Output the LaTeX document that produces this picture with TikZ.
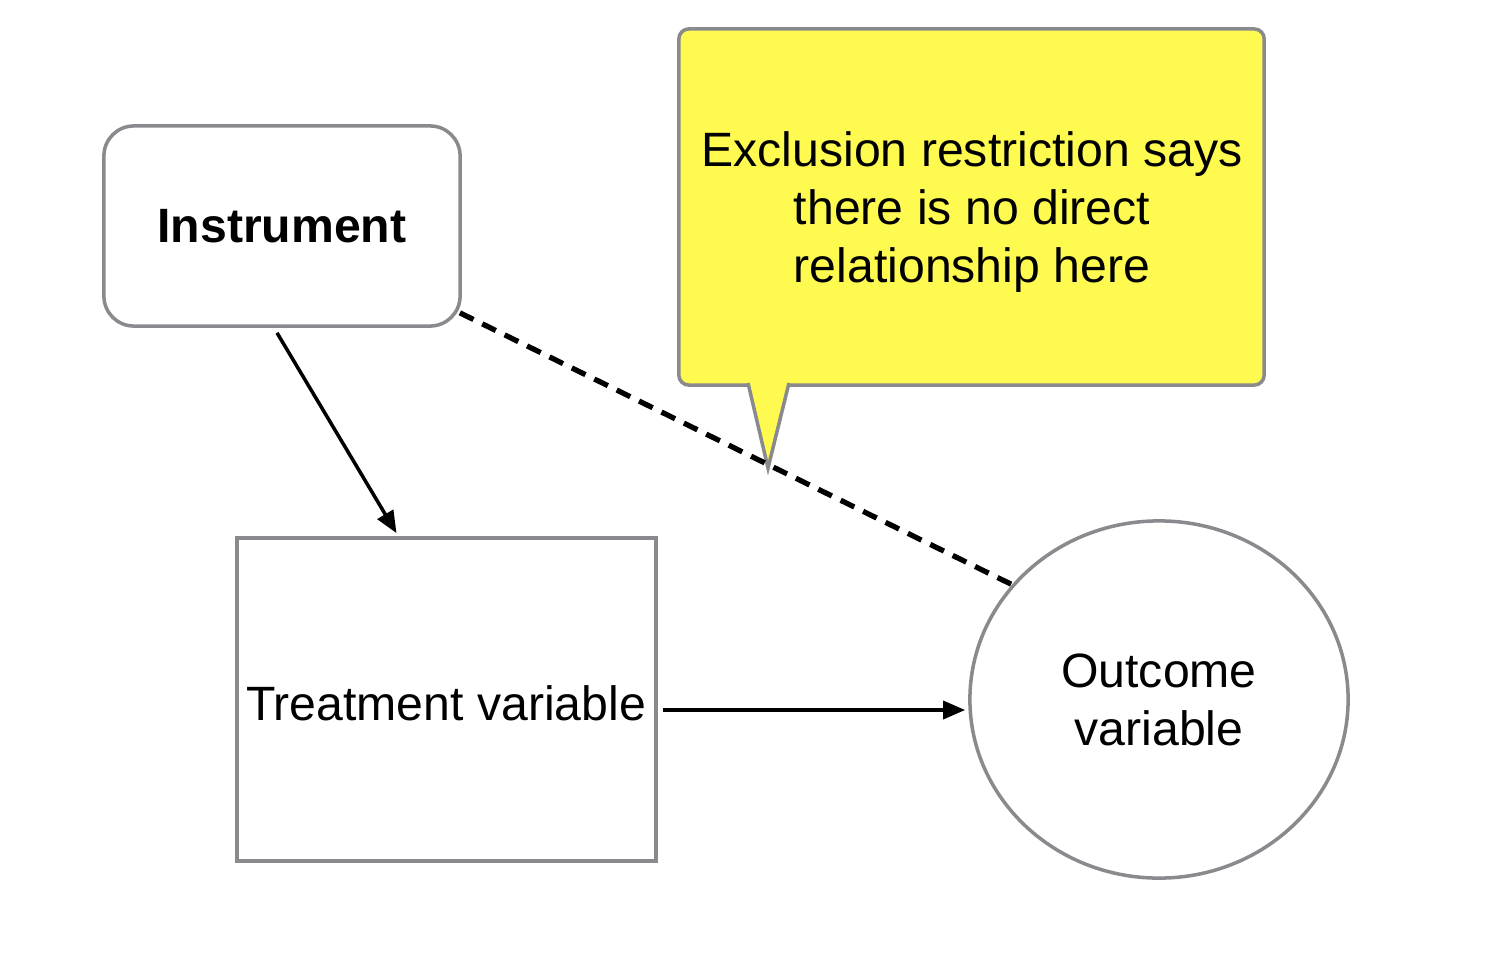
\documentclass[tikz,border=0pt]{standalone}
\usepackage{fontspec}
\setmainfont{Liberation Sans}
\usetikzlibrary{arrows.meta,shapes.geometric,calc}
\definecolor{boxgray}{HTML}{8A8A8E}
\definecolor{noteyellow}{HTML}{FFFA50}

\begin{document}
\begin{tikzpicture}[x=0.01cm,y=-0.01cm,
  every node/.style={inner sep=0pt,font=\fontsize{13.7}{16.5}\selectfont,align=center},
  border/.style={draw=boxgray,line width=1pt},
  link/.style={black,line width=1pt,-{Triangle[length=0.22cm,width=0.18cm]}},
  nolink/.style={black,line width=1.5pt,dash pattern=on 4.3pt off 2.8pt}]
\useasboundingbox (0,0) rectangle (1486,970);
% nodes
\node [border,rounded corners=0.3cm,minimum width=3.56cm,minimum height=2cm,
  font=\fontsize{13.7}{16.5}\selectfont\bfseries] (instr) at (282,226) {Instrument};
\node [border,rectangle,minimum width=4.19cm,minimum height=3.23cm] (treat) at (446.5,699.5) {};
\node at (446,703) {Treatment variable};
\node [border,ellipse,minimum width=3.78cm,minimum height=3.57cm] (outc) at (1159,699.5) {Outcome\\variable};
% callout
\node [border,fill=noteyellow,rounded corners=0.1cm,minimum width=5.85cm,minimum height=3.56cm]
  (note) at (971.5,207) {};
\coordinate (tipl) at (748,383);
\coordinate (tipr) at (789,383);
\coordinate (tip) at (768,468);
\fill [noteyellow] (tipl) -- (tip) -- (tipr) -- cycle;
\draw [border,line join=miter] (tipl) -- (tip) -- (tipr);
\node at (972,212) {Exclusion restriction says\\there is no direct\\relationship here};
% connectors
\draw [link] ($(instr.south)+(-5,5)$) -- ($(treat.north)+(-50,-3)$);
\draw [link] ($(treat.east)+(5,10.5)$) -- ($(outc.west)+(-3,10.5)$);
\draw [nolink] ($(instr.south east)+(-2,-15)$) -- (outc.142);
\end{tikzpicture}
\end{document}
